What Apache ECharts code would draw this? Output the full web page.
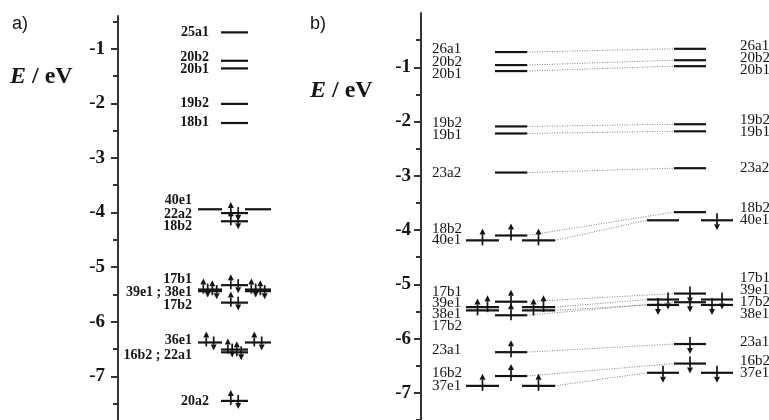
<!DOCTYPE html>
<html>
<head>
<meta charset="utf-8">
<script src="https://cdn.jsdelivr.net/npm/echarts@6.0.0/dist/echarts.min.js"></script>
<style>
  html, body { margin: 0; padding: 0; background: #fff; }
  #chart { width: 769px; height: 420px; }
</style>
</head>
<body>
<div id="chart"></div>
<script>
// ---- panel a) closed-shell levels ----
const aNames = ['25a1', '20b2', '20b1', '19b2', '18b1', '40e1', '22a2', '18b2', '17b1', '39e1', '38e1', '17b2', '36e1', '16b2', '22a1', '20a2'];
const aEnergy = [-0.70, -1.22, -1.36, -2.01, -2.36, -3.94, -4.01, -4.16, -5.33, -5.41, -5.44, -5.65, -6.38, -6.51, -6.56, -7.45];
const aElectrons = [0, 0, 0, 0, 0, 0, 2, 2, 2, 4, 4, 2, 4, 2, 2, 2];
const aLabelText = ['25a1', '20b2', '20b1', '19b2', '18b1', '40e1', '22a2', '18b2', '17b1', '39e1 ; 38e1', '17b2', '36e1', '16b2 ; 22a1', '20a2'];
const aLabelE = [-0.695, -1.16, -1.38, -2.005, -2.35, -3.77, -4.035, -4.26, -5.22, -5.465, -5.70, -6.35, -6.61, -7.45];

// ---- panel b) alpha (left) / beta (right) levels ----
const bNames = ['26a1', '20b2', '20b1', '19b2', '19b1', '23a2', '18b2', '40e1', '17b1', '39e1', '38e1', '17b2', '23a1', '16b2', '37e1'];
const bAlphaE = [-0.72, -0.96, -1.07, -2.09, -2.22, -2.94, -4.10, -4.19, -5.32, -5.42, -5.48, -5.57, -6.25, -6.69, -6.87];
const bBetaE = [-0.66, -0.87, -0.98, -2.05, -2.18, -2.86, -3.67, -3.82, -5.17, -5.28, -5.38, -5.33, -6.10, -6.46, -6.63];
const bAlphaOcc = [0, 0, 0, 0, 0, 0, 1, 2, 1, 2, 2, 1, 1, 1, 2];
const bBetaOcc = [0, 0, 0, 0, 0, 0, 0, 1, 1, 2, 2, 1, 1, 1, 2];
const bLeftLabels = ['26a1', '20b2', '20b1', '19b2', '19b1', '23a2', '18b2', '40e1', '17b1', '39e1', '38e1', '17b2', '23a1', '16b2', '37e1'];
const bLeftLabelE = [-0.673, -0.904, -1.127, -2.024, -2.249, -2.945, -3.976, -4.187, -5.14, -5.34, -5.55, -5.76, -6.22, -6.64, -6.87];
const bRightLabels = ['26a1', '20b2', '20b1', '19b2', '19b1', '23a2', '18b2', '40e1', '17b1', '39e1', '17b2', '38e1', '23a1', '16b2', '37e1'];
const bRightLabelE = [-0.613, -0.824, -1.055, -1.976, -2.187, -2.855, -3.60, -3.824, -4.885, -5.109, -5.327, -5.54, -6.067, -6.413, -6.642];

// axis ticks
const majorTicks = [-1, -2, -3, -4, -5, -6, -7];
const minorTicks = [-0.5, -1.5, -2.5, -3.5, -4.5, -5.5, -6.5, -7.5];

// layout: x units are pixels right of each energy axis
const A = { mid: [103, 130], eL: [80, 104], eR: [127, 153], labE: 74, labM: 91 };
const B = {
    alpha: { mid: [74, 106], eL: [45, 78], eR: [101, 134] },
    beta: { mid: [253, 285], eL: [226, 258], eR: [280, 312] },
    labL: 11, labR: 319
};
const SERIF = '"Liberation Serif", "Times New Roman", serif';
const INK = '#151515';

const isE = n => /e1$/.test(n);

// -1: no near-degenerate partner, 0: upper of a pair, 1: lower of a pair
function partner(names, E, occ, i) {
    let idx = 0, found = false;
    names.forEach((n, j) => {
        if (j === i || !occ[j] || !occ[i] || isE(n) !== isE(names[i])) return;
        if (Math.abs(E[j] - E[i]) < 0.12) {
            found = true;
            if (j < i) idx++;
        }
    });
    return found ? idx : -1;
}

// panel a marks
const aLevels = [];
const aArrows = [];
aNames.forEach((n, i) => {
    const segs = isE(n) ? [A.eL, A.eR] : [A.mid];
    segs.forEach(s => aLevels.push([s[0], aEnergy[i], s[1]]));
    if (!aElectrons[i]) return;
    const k = partner(aNames, aEnergy, aElectrons, i);
    segs.forEach(s => {
        const c = (s[0] + s[1]) / 2 + (k < 0 ? 0 : (k === 0 ? -4.5 : 4.5));
        const d = k < 0 ? 3.7 : 2.2;
        aArrows.push([c - d, aEnergy[i], 1], [c + d, aEnergy[i], -1]);
    });
});
const aLabels = aLabelE.map(e => [aEnergy.some((v, j) => isE(aNames[j]) && Math.abs(v - e) < 0.35) ? A.labE : A.labM, e]);

// panel b marks
function spinLevels(E, cols) {
    const out = [];
    bNames.forEach((n, i) => {
        const segs = isE(n) ? [cols.eL, cols.eR] : [cols.mid];
        segs.forEach(s => out.push([s[0], E[i], s[1]]));
    });
    return out;
}
function spinArrows(E, occ, cols, dir) {
    const out = [];
    bNames.forEach((n, i) => {
        if (!occ[i]) return;
        const segs = isE(n) ? (occ[i] === 2 ? [cols.eL, cols.eR] : [cols.eR]) : [cols.mid];
        const k = partner(bNames, E, occ, i);
        const off = k < 0 ? 0 : (k === 0 ? 5 : -5);
        segs.forEach(s => out.push([(s[0] + s[1]) / 2 + off, E[i], dir]));
    });
    return out;
}
const bLevels = spinLevels(bAlphaE, B.alpha).concat(spinLevels(bBetaE, B.beta));
const bArrows = spinArrows(bAlphaE, bAlphaOcc, B.alpha, 1).concat(spinArrows(bBetaE, bBetaOcc, B.beta, -1));
const bLinks = bNames.map((n, i) => isE(n)
    ? [B.alpha.eR[1], bAlphaE[i], B.beta.eL[0], bBetaE[i]]
    : [B.alpha.mid[1], bAlphaE[i], B.beta.mid[0], bBetaE[i]]);

// render helpers
function renderLevel(params, api) {
    const p0 = api.coord([api.value(0), api.value(1)]);
    const p1 = api.coord([api.value(2), api.value(1)]);
    return { type: 'line', shape: { x1: p0[0], y1: p0[1], x2: p1[0], y2: p1[1] }, style: { stroke: INK, lineWidth: 2.2 } };
}
function arrowRender(up, down) {
    return (params, api) => {
        const p = api.coord([api.value(0), api.value(1)]);
        const dir = api.value(2);
        const tail = p[1] + (dir > 0 ? up[0] : down[0]);
        const tip = p[1] + (dir > 0 ? up[1] : down[1]);
        const h = 6 * Math.sign(tail - tip);
        return {
            type: 'group',
            children: [
                { type: 'line', shape: { x1: p[0], y1: tail, x2: p[0], y2: tip + h }, style: { stroke: INK, lineWidth: 1.7 } },
                { type: 'polygon', shape: { points: [[p[0], tip], [p[0] - 3, tip + h], [p[0] + 3, tip + h]] }, style: { fill: INK } }
            ]
        };
    };
}
function renderLink(params, api) {
    const p0 = api.coord([api.value(0), api.value(1)]);
    const p1 = api.coord([api.value(2), api.value(3)]);
    return {
        type: 'line', shape: { x1: p0[0], y1: p0[1], x2: p1[0], y2: p1[1] },
        style: { stroke: '#808080', lineWidth: 1, lineDash: [1, 1.5] }
    };
}
function labelRender(texts, align, font) {
    return (params, api) => {
        const p = api.coord([api.value(0), api.value(1)]);
        return {
            type: 'text', x: p[0], y: p[1],
            style: { text: texts[params.dataIndex], font: font, fill: INK, align: align, verticalAlign: 'middle', textAlign: align, textVerticalAlign: 'middle' }
        };
    };
}

function energyAxis(grid, min, max, margin) {
    return [{
        gridIndex: grid, type: 'value', min: min, max: max, position: 'left',
        axisLine: { show: true, lineStyle: { color: '#333', width: 2 } },
        axisTick: { show: true, length: 7, customValues: majorTicks, lineStyle: { color: '#333', width: 2 } },
        axisLabel: { customValues: majorTicks, margin: margin, color: INK, fontFamily: SERIF, fontWeight: 'bold', fontSize: 19 },
        splitLine: { show: false }
    }, {
        gridIndex: grid, type: 'value', min: min, max: max, position: 'left', offset: 0,
        axisLine: { show: false },
        axisTick: { show: true, length: 5, customValues: minorTicks, lineStyle: { color: '#333', width: 2 } },
        axisLabel: { show: false },
        splitLine: { show: false }
    }];
}

const eLabel = {
    text: '{i|E} / eV', font: 'bold 24px ' + SERIF, fill: INK,
    rich: { i: { fontStyle: 'italic', fontWeight: 'bold', fontSize: 24, fontFamily: SERIF } }
};

const chart = echarts.init(document.getElementById('chart'));
chart.setOption({
    animation: false,
    backgroundColor: '#fff',
    grid: [
        { left: 118, top: 16, width: 182, height: 405 },
        { left: 421, top: 13, width: 348, height: 412.5 }
    ],
    xAxis: [
        { gridIndex: 0, type: 'value', min: 0, max: 182, show: false },
        { gridIndex: 1, type: 'value', min: 0, max: 348, show: false }
    ],
    yAxis: energyAxis(0, -7.8, -0.4, 13).concat(energyAxis(1, -7.5, 0, 10)),
    graphic: [
        { type: 'text', left: 12, top: 15, style: { text: 'a)', font: '18px "Liberation Sans", Arial, sans-serif', fill: INK } },
        { type: 'text', left: 310, top: 15, style: { text: 'b)', font: '18px "Liberation Sans", Arial, sans-serif', fill: INK } },
        { type: 'text', left: 10, top: 65, style: eLabel },
        { type: 'text', left: 310, top: 79, style: eLabel }
    ],
    series: [
        { type: 'custom', name: 'levels a', coordinateSystem: 'cartesian2d', xAxisIndex: 0, yAxisIndex: 0, data: aLevels, renderItem: renderLevel, silent: true },
        { type: 'custom', name: 'electrons a', coordinateSystem: 'cartesian2d', xAxisIndex: 0, yAxisIndex: 0, data: aArrows, renderItem: arrowRender([4, -11], [-6, 8]), silent: true },
        { type: 'custom', name: 'labels a', coordinateSystem: 'cartesian2d', xAxisIndex: 0, yAxisIndex: 0, data: aLabels, renderItem: labelRender(aLabelText, 'right', 'bold 14px ' + SERIF), silent: true },
        { type: 'custom', name: 'links b', coordinateSystem: 'cartesian2d', xAxisIndex: 1, yAxisIndex: 2, data: bLinks, renderItem: renderLink, silent: true },
        { type: 'custom', name: 'levels b', coordinateSystem: 'cartesian2d', xAxisIndex: 1, yAxisIndex: 2, data: bLevels, renderItem: renderLevel, silent: true },
        { type: 'custom', name: 'electrons b', coordinateSystem: 'cartesian2d', xAxisIndex: 1, yAxisIndex: 2, data: bArrows, renderItem: arrowRender([5, -12], [-7, 10]), silent: true },
        { type: 'custom', name: 'labels b left', coordinateSystem: 'cartesian2d', xAxisIndex: 1, yAxisIndex: 2, data: bLeftLabelE.map(e => [B.labL, e]), renderItem: labelRender(bLeftLabels, 'left', '15px ' + SERIF), silent: true },
        { type: 'custom', name: 'labels b right', coordinateSystem: 'cartesian2d', xAxisIndex: 1, yAxisIndex: 2, data: bRightLabelE.map(e => [B.labR, e]), renderItem: labelRender(bRightLabels, 'left', '15px ' + SERIF), silent: true }
    ]
});
</script>
</body>
</html>
